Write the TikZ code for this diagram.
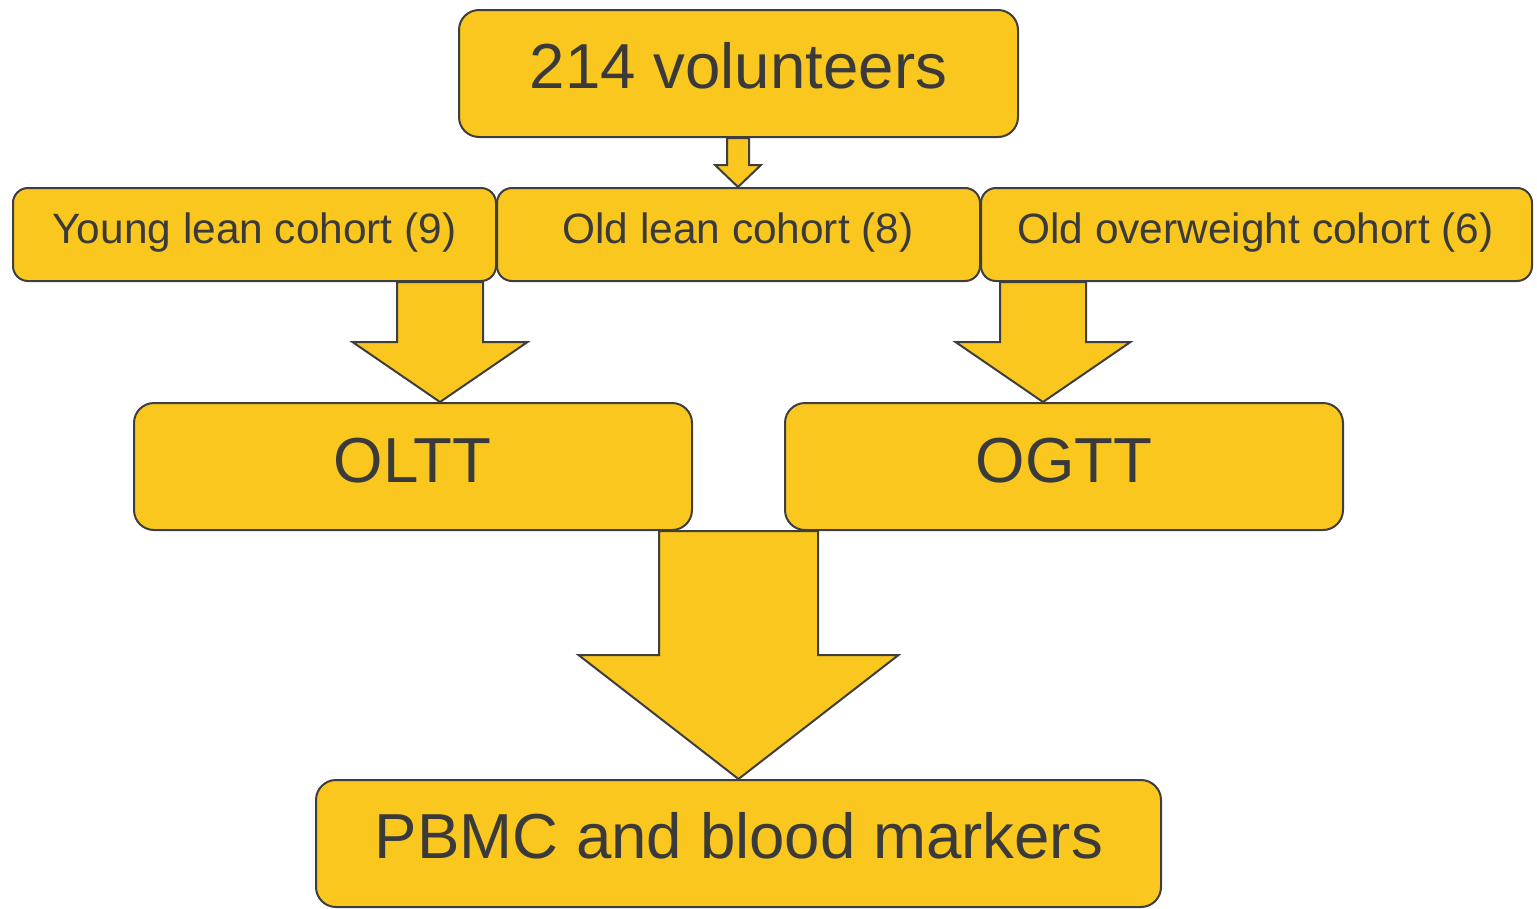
\documentclass[tikz,border=0pt]{standalone}
\usepackage{fontspec}
\setmainfont{Liberation Sans}
\usetikzlibrary{calc}
\definecolor{boxfill}{RGB}{249,199,30}
\definecolor{boxline}{RGB}{62,62,62}
\definecolor{boxtext}{RGB}{58,58,58}
\newcommand{\largetxt}{\fontsize{63.6}{72}\selectfont}
\newcommand{\cohorttxt}{\fontsize{42.4}{50}\selectfont}
\tikzset{
  x=1pt, y=-1pt,
  box/.style={draw=boxline, line width=2pt, fill=boxfill, rounded corners=#1, inner sep=0pt},
  box/.default=15pt,
  caption/.style={text=boxtext, anchor=base, inner sep=0pt},
  arrowbody/.style={draw=boxline, line width=2pt, fill=boxfill, line join=miter},
}
% block arrow: #1 centre x, #2 upper node, #3 lower node,
% #4 half shaft width, #5 half head width, #6 head length
\newcommand{\blockdown}[6]{%
  \draw[arrowbody] let \p1=(#2.south), \p2=(#3.north) in
    ({(#1-#4)*1pt},\y1) -- ({(#1-#4)*1pt},{\y2+#6pt}) --
    ({(#1-#5)*1pt},{\y2+#6pt}) -- ({#1*1pt},\y2) --
    ({(#1+#5)*1pt},{\y2+#6pt}) -- ({(#1+#4)*1pt},{\y2+#6pt}) --
    ({(#1+#4)*1pt},\y1) -- cycle;}
\begin{document}
\begin{tikzpicture}
\useasboundingbox (0,0) rectangle (1537,908);

% boxes
\node[box=20pt, minimum width=559pt, minimum height=127pt] (vol) at (738.5,73.5) {};
\node[box, minimum width=483pt, minimum height=93pt] (young) at (254.5,234.5) {};
\node[box, minimum width=483pt, minimum height=93pt] (oldlean) at (738.5,234.5) {};
\node[box, minimum width=551pt, minimum height=93pt] (oldover) at (1256.5,234.5) {};
\node[box=20pt, minimum width=558pt, minimum height=127pt] (oltt) at (413,466.5) {};
\node[box=20pt, minimum width=558pt, minimum height=127pt] (ogtt) at (1064,466.5) {};
\node[box=20pt, minimum width=845pt, minimum height=127pt] (pbmc) at (738.5,843.5) {};

% block arrows
\blockdown{738}{vol}{oldlean}{11}{23}{22}
\blockdown{440}{young}{oltt}{43}{87.5}{60}
\blockdown{1043}{oldover}{ogtt}{43}{87.5}{60}
\blockdown{738.5}{oltt}{pbmc}{79.5}{160}{124}

% labels
\node[caption, font=\largetxt] (voltxt) at (738.5,88) {214 volunteers};
\node[caption, font=\cohorttxt] (youngtxt) at (254.5,243) {Young lean cohort (9)};
\node[caption, font=\cohorttxt] (oldleantxt) at (738,243) {Old lean cohort (8)};
\node[caption, font=\cohorttxt] (oldovertxt) at (1255.5,243) {Old overweight cohort (6)};
\node[caption, font=\largetxt] (oltttxt) at (412.5,482) {OLTT};
\node[caption, font=\largetxt] (ogtttxt) at (1064,482) {OGTT};
\node[caption, font=\largetxt] (pbmctxt) at (739,858) {PBMC and blood markers};
\end{tikzpicture}
\end{document}
